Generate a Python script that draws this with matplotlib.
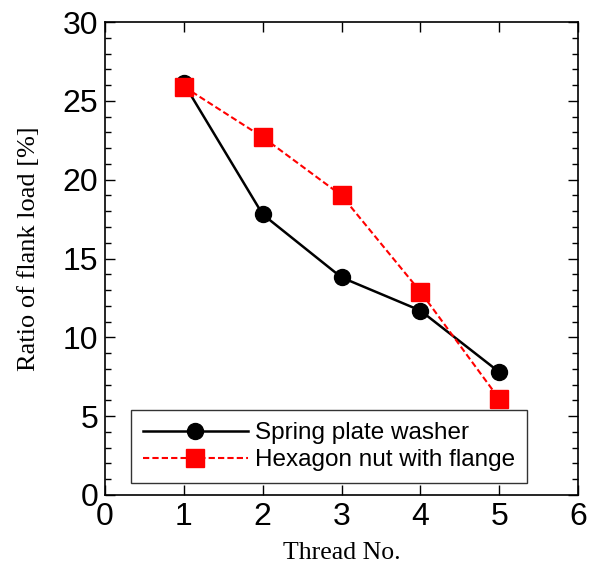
import matplotlib
matplotlib.use("Agg")
import matplotlib.pyplot as plt
from matplotlib.ticker import MultipleLocator

threads = [1, 2, 3, 4, 5]
spring_plate_washer = [26.1, 17.8, 13.8, 11.7, 7.8]
hexagon_nut_flange = [25.9, 22.7, 19.0, 12.9, 6.1]

fig = plt.figure(figsize=(6.01, 5.66), dpi=100)
ax = fig.add_axes([105 / 601, 1 - 495 / 566, 473 / 601, 473 / 566])

ax.plot(threads, spring_plate_washer, color="black", lw=1.8, marker="o",
        ms=11.5, label="Spring plate washer")
ax.plot(threads, hexagon_nut_flange, color="red", lw=1.5, ls=(0, (3, 1.5)),
        marker="s", ms=12.5, label="Hexagon nut with flange")

ax.set_xlim(0, 6)
ax.set_ylim(0, 30)
ax.xaxis.set_major_locator(MultipleLocator(1))
ax.yaxis.set_major_locator(MultipleLocator(5))
ax.yaxis.set_minor_locator(MultipleLocator(1))
ax.tick_params(which="both", direction="in", top=True, right=True, width=1)
ax.tick_params(which="major", length=7, labelsize=23, pad=5)
ax.tick_params(which="minor", length=4)
ax.tick_params(axis="x", which="minor", bottom=False, top=False)
for lbl in ax.get_xticklabels() + ax.get_yticklabels():
    lbl.set_fontfamily("Liberation Sans")
for s in ax.spines.values():
    s.set_linewidth(1.2)

ax.set_xlabel("Thread No.", family="Liberation Serif", fontsize=18.5, labelpad=7)
ax.set_ylabel("Ratio of flank load [%]", family="Liberation Serif", fontsize=19)
ax.yaxis.set_label_coords(-0.138, 0.52)

leg = ax.legend(loc="lower left", bbox_to_anchor=(0.055, 0.025), handlelength=4.3,
                prop={"family": "Liberation Sans", "size": 17.5}, frameon=True,
                fancybox=False, edgecolor="black", borderpad=0.5,
                labelspacing=0.2, handletextpad=0.3, borderaxespad=0)
leg.get_frame().set_linewidth(1.0)

fig.savefig("out.png", dpi=100)
